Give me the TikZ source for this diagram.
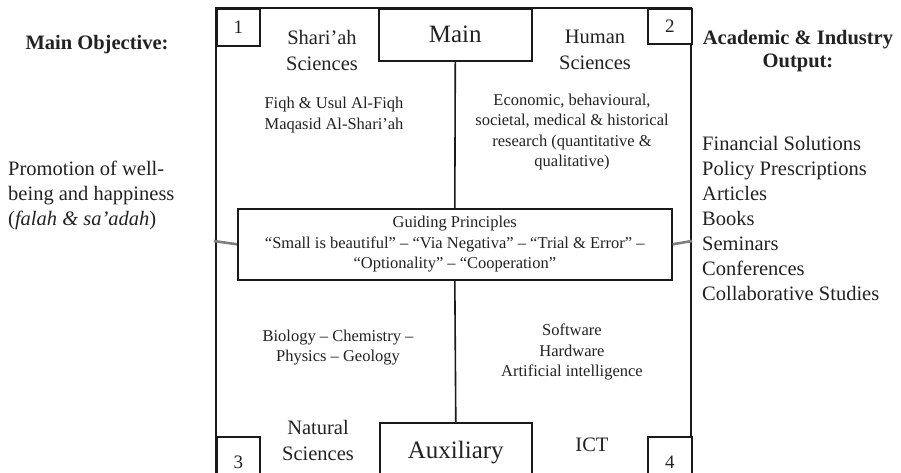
\documentclass[tikz,border=0pt]{standalone}
\usepackage{fontspec}
\setmainfont{Liberation Serif}
\definecolor{ink}{HTML}{1A1A1A}
\definecolor{txt}{HTML}{222222}
\definecolor{linkgray}{HTML}{7F7F7F}
\begin{document}
\begin{tikzpicture}[x=1pt,y=-1pt,
  frame/.style={draw=ink, line width=1.6pt},
  box/.style={draw=ink, line width=1.6pt, fill=white, inner sep=0pt, anchor=north west, text=txt},
  big/.style={font=\fontsize{25}{28}\selectfont},
  head/.style={font=\fontsize{20.5}{26}\selectfont, align=center, text=txt, inner sep=0pt},
  body/.style={font=\fontsize{16.5}{20.5}\selectfont, align=center, text=txt, inner sep=0pt},
  side/.style={font=\fontsize{20.5}{25}\selectfont, align=left, text=txt, inner sep=0pt},
  sidehead/.style={font=\fontsize{20.5}{23}\selectfont\bfseries, align=center, text=txt, inner sep=0pt},
  num/.style={font=\fontsize{19}{20}\selectfont},
  conn/.style={draw=ink, line width=1.6pt},
  gconn/.style={draw=linkgray, line width=2.6pt}]
\useasboundingbox (0,0) rectangle (901,472);
\clip (0,0) rectangle (901,472);
\fill[white] (0,0) rectangle (901,472);
% outer frame
\draw[frame] (216,8) rectangle (691,500);
\coordinate (leftedge) at (214,241);
\coordinate (rightedge) at (692,241);
% corner and label boxes
\node[box, num, minimum width=43pt, minimum height=37pt] (b1) at (216,8) {1};
\node[box, num, minimum width=44pt, minimum height=35pt] (b2) at (647,8) {2};
\node[box, big, minimum width=153pt, minimum height=52pt] (main) at (378,8) {\raisebox{1pt}{Main}};
\node[box, num, minimum width=43pt, minimum height=50pt] (b3) at (216,436) {\raisebox{-4pt}{3}};
\node[box, num, minimum width=44pt, minimum height=50pt] (b4) at (647,436) {\raisebox{-4pt}{4}};
\node[box, big, minimum width=152pt, minimum height=60pt] (aux) at (379,422) {\raisebox{-2pt}{Auxiliary}};
% guiding principles
\node[box, body, minimum width=434pt, minimum height=71pt, align=center] (guide) at (237,208)
  {Guiding Principles\\``Small is beautiful'' -- ``Via Negativa'' -- ``Trial \& Error'' --\\``Optionality'' -- ``Cooperation''};
% connectors
\draw[conn] (main.south) -- (guide.north);
\draw[conn] (guide.south) -- (aux.north);
\draw[gconn] (leftedge) -- (guide.west);
\draw[gconn] (guide.east) -- (rightedge);
% quadrant headings
\node[head] (shariah) at (322,50) {Shari'ah\\Sciences};
\node[head] (human) at (595,49.5) {Human\\Sciences};
\node[head] (natural) at (318,440.5) {Natural\\Sciences};
\node[head] (ict) at (592,445) {ICT};
% quadrant bodies
\node[body] (fiqh) at (334,115) {Fiqh \& Usul Al-Fiqh\\Maqasid Al-Shari'ah};
\node[body] (econ) at (572,132) {Economic, behavioural,\\societal, medical \& historical\\research (quantitative \&\\qualitative)};
\node[body] (bio) at (338,347.5) {Biology -- Chemistry --\\Physics -- Geology};
\node[body] (soft) at (572,352) {Software\\Hardware\\Artificial intelligence};
% side texts
\node[sidehead] (objhead) at (97,45) {Main Objective:};
\node[side, anchor=west] (obj) at (8,195) {Promotion of well-\\being and happiness\\(\textit{falah \& sa'adah})};
\node[sidehead] (outhead) at (798,51.5) {Academic \& Industry\\Output:};
\node[side, anchor=west] (out) at (702,218) {Financial Solutions\\Policy Prescriptions\\Articles\\Books\\Seminars\\Conferences\\Collaborative Studies};
\end{tikzpicture}
\end{document}
